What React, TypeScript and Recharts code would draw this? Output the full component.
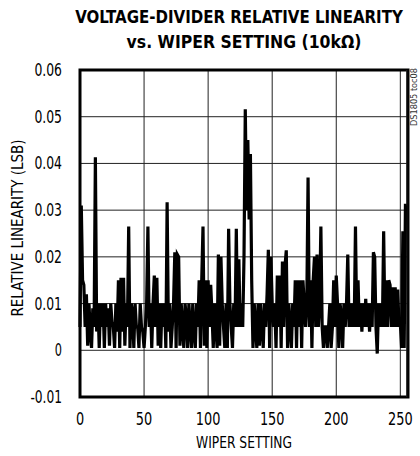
import { LineChart, Line, XAxis, YAxis, CartesianGrid, ReferenceLine, ReferenceArea } from "recharts"

// relative linearity (LSB), one value per wiper code 0..255
const linearity = [
  0.005, 0.031, 0.015, 0.014, 0.005, 0.012, 0.001, 0.01, 0.004, 0.0005, 0.009, 0.005, 0.0413, 0.004, 0.01, 0.0005,
  0.01, 0.005, 0.01, 0.0005, 0.01, 0.005, 0.009, 0.001, 0.01, 0.006, 0.005, 0.0005, 0.01, 0.004, 0.015, 0.0005,
  0.0155, 0.004, 0.0155, 0.001, 0.01, 0.005, 0.0265, 0.0005, 0.01, 0.008, 0.0005, 0.01, 0.005, 0.005, 0.0005, 0.01,
  0.005, 0.004, 0.0005, 0.005, 0.01, 0.0265, 0.005, 0.01, 0.0005, 0.01, 0.016, 0.005, 0.0155, 0.001, 0.01, 0.0005,
  0.01, 0.005, 0.01, 0.0005, 0.0317, 0.004, 0.01, 0.0005, 0.005, 0.01, 0.021, 0.0005, 0.0205, 0.02, 0.001, 0.01,
  0.005, 0.0005, 0.01, 0.007, 0.0005, 0.01, 0.005, 0.0005, 0.01, 0.004, 0.0005, 0.01, 0.005, 0.015, 0.0005, 0.015,
  0.0265, 0.001, 0.015, 0.0005, 0.015, 0.005, 0.014, 0.008, 0.0005, 0.01, 0.005, 0.0005, 0.0205, 0.001, 0.02, 0.01,
  0.005, 0.0005, 0.01, 0.0005, 0.026, 0.01, 0.005, 0.0005, 0.01, 0.005, 0.026, 0.005, 0.0195, 0.005, 0.01, 0.005,
  0.02, 0.0516, 0.03, 0.045, 0.028, 0.042, 0.015, 0.0005, 0.01, 0.005, 0.0005, 0.01, 0.001, 0.01, 0.005, 0.0005,
  0.01, 0.005, 0.012, 0.0215, 0.0005, 0.02, 0.01, 0.005, 0.01, 0.0005, 0.016, 0.005, 0.016, 0.0005, 0.019, 0.005,
  0.018, 0.0214, 0.0005, 0.01, 0.005, 0.0005, 0.01, 0.005, 0.015, 0.0005, 0.015, 0.005, 0.015, 0.0005, 0.015, 0.01,
  0.005, 0.01, 0.037, 0.005, 0.015, 0.0005, 0.015, 0.02, 0.005, 0.0205, 0.005, 0.01, 0.0265, 0.005, 0.0005, 0.005,
  0.005, 0.0005, 0.005, 0.01, 0.0005, 0.005, 0.015, 0.005, 0.016, 0.01, 0.0005, 0.01, 0.007, 0.0005, 0.01, 0.005,
  0.01, 0.0205, 0.005, 0.01, 0.005, 0.01, 0.005, 0.0265, 0.005, 0.015, 0.005, 0.01, 0.004, 0.01, 0.005, 0.011,
  0.005, 0.01, 0.004, 0.01, 0.005, 0.021, 0.02, 0.005, -0.0007, 0.01, 0.005, 0.01, 0.005, 0.0255, 0.005, 0.015,
  0.005, 0.015, 0.014, 0.005, 0.0135, 0.005, 0.0135, 0.005, 0.013, 0.005, 0.006, 0.0005, 0.0255, 0.0005, 0.031, 0.031,
]

const xTicks = [0, 50, 100, 150, 200, 250]
const yTicks = [-0.01, 0, 0.01, 0.02, 0.03, 0.04, 0.05, 0.06]

const data = linearity.map((v, i) => ({ wiper: i, lsb: v }))

const font = "'DejaVu Sans Condensed', 'Liberation Sans Narrow', Arial, sans-serif"

// the original uses a narrow face; squeeze the condensed one to about its width
const charW = (s: string) => s.replace(/[.\-]/g, "").length * 8.2 + (s.match(/[.\-]/g) || []).length * 4

function XTick(props: any) {
  const { x, y, payload } = props
  const s = String(payload.value)
  return (
    <text x={x} y={y + 14} textAnchor="middle" fontFamily={font} fontSize={18} fill="#000" textLength={charW(s)} lengthAdjust="spacingAndGlyphs">
      {s}
    </text>
  )
}

function YTick(props: any) {
  const { x, y, payload } = props
  const v = payload.value as number
  const s = v === 0 ? "0" : v.toFixed(2)
  return (
    <text x={x} y={y + 6} textAnchor="end" fontFamily={font} fontSize={17.5} fill="#000" textLength={charW(s) - 1} lengthAdjust="spacingAndGlyphs">
      {s}
    </text>
  )
}

export default function App() {
  return (
    <div style={{ position: "absolute", left: 0, top: 0, width: 420, height: 456, background: "#fff", fontFamily: font }}>
      <LineChart width={420} height={456} data={data} margin={{ top: 70, right: 12, bottom: 29, left: 20 }}>
        <CartesianGrid stroke="#222" strokeWidth={1} />
        <XAxis
          dataKey="wiper"
          type="number"
          domain={[0, 256]}
          ticks={xTicks}
          tickLine={false}
          tickSize={0}
          tickMargin={14}
          axisLine={false}
          height={30}
          tick={<XTick />}
        />
        <YAxis
          type="number"
          domain={[-0.01, 0.06]}
          ticks={yTicks}
          tickLine={false}
          tickSize={0}
          tickMargin={18}
          axisLine={false}
          width={60}
          tick={<YTick />}
        />
        <ReferenceLine x={255} stroke="#222" strokeWidth={1} />
        <Line type="linear" dataKey="lsb" stroke="#000" strokeWidth={3.2} dot={false} isAnimationActive={false} />
        <ReferenceArea x1={0} x2={256} y1={-0.01} y2={0.06} fill="none" stroke="#000" strokeWidth={3} />
      </LineChart>
      <svg width={420} height={456} style={{ position: "absolute", left: 0, top: 0, pointerEvents: "none" }}>
        <g transform="translate(239,23) scale(0.86,1)">
          <text x={0} y={0} textAnchor="middle" fontFamily={font} fontWeight="bold" fontSize={18} fill="#000" textLength={381} lengthAdjust="spacingAndGlyphs">
            VOLTAGE-DIVIDER RELATIVE LINEARITY
          </text>
        </g>
        <g transform="translate(244,48) scale(0.86,1)">
          <text x={0} y={0} textAnchor="middle" fontFamily={font} fontWeight="bold" fontSize={18} fill="#000" textLength={273} lengthAdjust="spacingAndGlyphs">
            vs. WIPER SETTING (10kΩ)
          </text>
        </g>
        <text x={244} y={448} textAnchor="middle" fontFamily={font} fontSize={16.5} fill="#000" textLength={96} lengthAdjust="spacingAndGlyphs">
          WIPER SETTING
        </text>
        <text transform="translate(23,228) rotate(-90)" textAnchor="middle" fontFamily={font} fontSize={16.5} fill="#000" textLength={177} lengthAdjust="spacingAndGlyphs">
          RELATIVE LINEARITY (LSB)
        </text>
        <text transform="translate(417,97) rotate(-90)" textAnchor="middle" fontFamily={font} fontSize={8} fill="#333" textLength={58} lengthAdjust="spacingAndGlyphs">
          DS1805 toc08
        </text>
      </svg>
    </div>
  )
}
